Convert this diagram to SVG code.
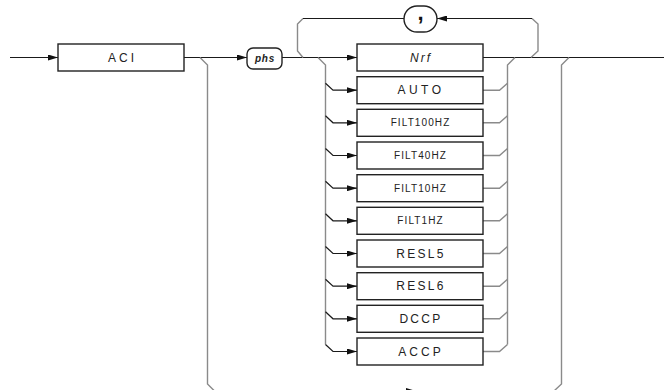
<svg xmlns="http://www.w3.org/2000/svg" width="664" height="390" viewBox="0 0 664 390">
<defs>
<style>
.ln{fill:none;stroke:#1a1a1a;stroke-width:1.2}
.gr{fill:none;stroke:#8a8a8a;stroke-width:1.4}
.box{fill:#fff;stroke:#222;stroke-width:1.4}
.t{font-family:"Liberation Sans",Arial,sans-serif;font-size:12px;fill:#222;text-anchor:middle;dominant-baseline:central;letter-spacing:2.3px}
.s{font-size:10px;letter-spacing:1.1px}
</style>
<marker id="ar" viewBox="0 0 10 6" refX="10" refY="3" markerWidth="10" markerHeight="6" markerUnits="userSpaceOnUse" orient="auto">
<path d="M0,0 L10,3 L0,6 Z" fill="#111"/>
</marker>
</defs>
<g id="connectors">
<path class="ln" d="M10,57.5 H58" marker-end="url(#ar)"/>
<path class="ln" d="M184,57.5 H247" marker-end="url(#ar)"/>
<path class="ln" d="M282,57.5 H357" marker-end="url(#ar)"/>
<path class="ln" d="M483,57.5 H664"/>
<path class="gr" d="M303,57.5 L297.5,51 V24 L303,18.5"/>
<path class="ln" d="M303,18.5 H404"/>
<path class="gr" d="M531,57.5 L538,51 V24 L532,18.5"/>
<path class="ln" d="M532,18.5 H437" marker-end="url(#ar)"/>
<path class="gr" d="M200,57.5 L207.5,65 V384 L214.5,391 H554 L561.5,384 V65 L569,57.5"/>
<path class="ln" d="M214.5,391 H416" marker-end="url(#ar)"/>
<path class="gr" d="M318,57.5 L325.5,65 V344.5"/>
<path class="ln" d="M325.5,83.2 L333,90.2 H357" marker-end="url(#ar)"/>
<path class="ln" d="M325.5,115.8 L333,122.8 H357" marker-end="url(#ar)"/>
<path class="ln" d="M325.5,148.5 L333,155.5 H357" marker-end="url(#ar)"/>
<path class="ln" d="M325.5,181.2 L333,188.2 H357" marker-end="url(#ar)"/>
<path class="ln" d="M325.5,213.8 L333,220.8 H357" marker-end="url(#ar)"/>
<path class="ln" d="M325.5,246.5 L333,253.5 H357" marker-end="url(#ar)"/>
<path class="ln" d="M325.5,279.2 L333,286.2 H357" marker-end="url(#ar)"/>
<path class="ln" d="M325.5,311.8 L333,318.8 H357" marker-end="url(#ar)"/>
<path class="ln" d="M325.5,344.5 L333,351.5 H357" marker-end="url(#ar)"/>
<path class="gr" d="M515,57.5 L507.5,65 V344.5"/>
<path class="gr" d="M483,90.2 H499.5 L507.5,83.2"/>
<path class="gr" d="M483,122.8 H499.5 L507.5,115.8"/>
<path class="gr" d="M483,155.5 H499.5 L507.5,148.5"/>
<path class="gr" d="M483,188.2 H499.5 L507.5,181.2"/>
<path class="gr" d="M483,220.8 H499.5 L507.5,213.8"/>
<path class="gr" d="M483,253.5 H499.5 L507.5,246.5"/>
<path class="gr" d="M483,286.2 H499.5 L507.5,279.2"/>
<path class="gr" d="M483,318.8 H499.5 L507.5,311.8"/>
<path class="gr" d="M483,351.5 H499.5 L507.5,344.5"/>
</g>
<g id="aci"><rect class="box" x="58" y="44" width="126" height="27"/><text class="t" x="122.5" y="57.5" style="letter-spacing:3px">ACI</text></g>
<g id="phs"><rect class="box" x="247" y="48" width="35" height="21" rx="6"/><text class="t" x="265" y="58" style="font-size:10px;font-weight:bold;font-style:italic;letter-spacing:0.8px">phs</text></g>
<g id="comma"><rect class="box" x="404" y="6" width="33" height="26" rx="13"/><text x="420.5" y="20" style="font-family:'Liberation Sans',Arial,sans-serif;font-size:22px;font-weight:bold;fill:#111;text-anchor:middle">,</text></g>
<g id="nrf"><rect class="box" x="357" y="44" width="126" height="27"/><text class="t" x="421" y="57.5" style="font-style:italic;letter-spacing:2px">Nrf</text></g>
<g id="auto"><rect class="box" x="357" y="76.7" width="126" height="27"/><text class="t" x="421" y="90.2" style="letter-spacing:3.5px">AUTO</text></g>
<g id="filt100hz"><rect class="box" x="357" y="109.3" width="126" height="27"/><text class="t s" x="420.5" y="122.8">FILT100HZ</text></g>
<g id="filt40hz"><rect class="box" x="357" y="142" width="126" height="27"/><text class="t s" x="420.5" y="155.5">FILT40HZ</text></g>
<g id="filt10hz"><rect class="box" x="357" y="174.7" width="126" height="27"/><text class="t s" x="420.5" y="188.2">FILT10HZ</text></g>
<g id="filt1hz"><rect class="box" x="357" y="207.3" width="126" height="27"/><text class="t s" x="420.5" y="220.8">FILT1HZ</text></g>
<g id="resl5"><rect class="box" x="357" y="240" width="126" height="27"/><text class="t" x="421" y="253.5">RESL5</text></g>
<g id="resl6"><rect class="box" x="357" y="272.7" width="126" height="27"/><text class="t" x="421" y="286.2">RESL6</text></g>
<g id="dccp"><rect class="box" x="357" y="305.3" width="126" height="27"/><text class="t" x="421" y="318.8">DCCP</text></g>
<g id="accp"><rect class="box" x="357" y="338" width="126" height="27"/><text class="t" x="421" y="351.5" style="letter-spacing:3px">ACCP</text></g>
</svg>
